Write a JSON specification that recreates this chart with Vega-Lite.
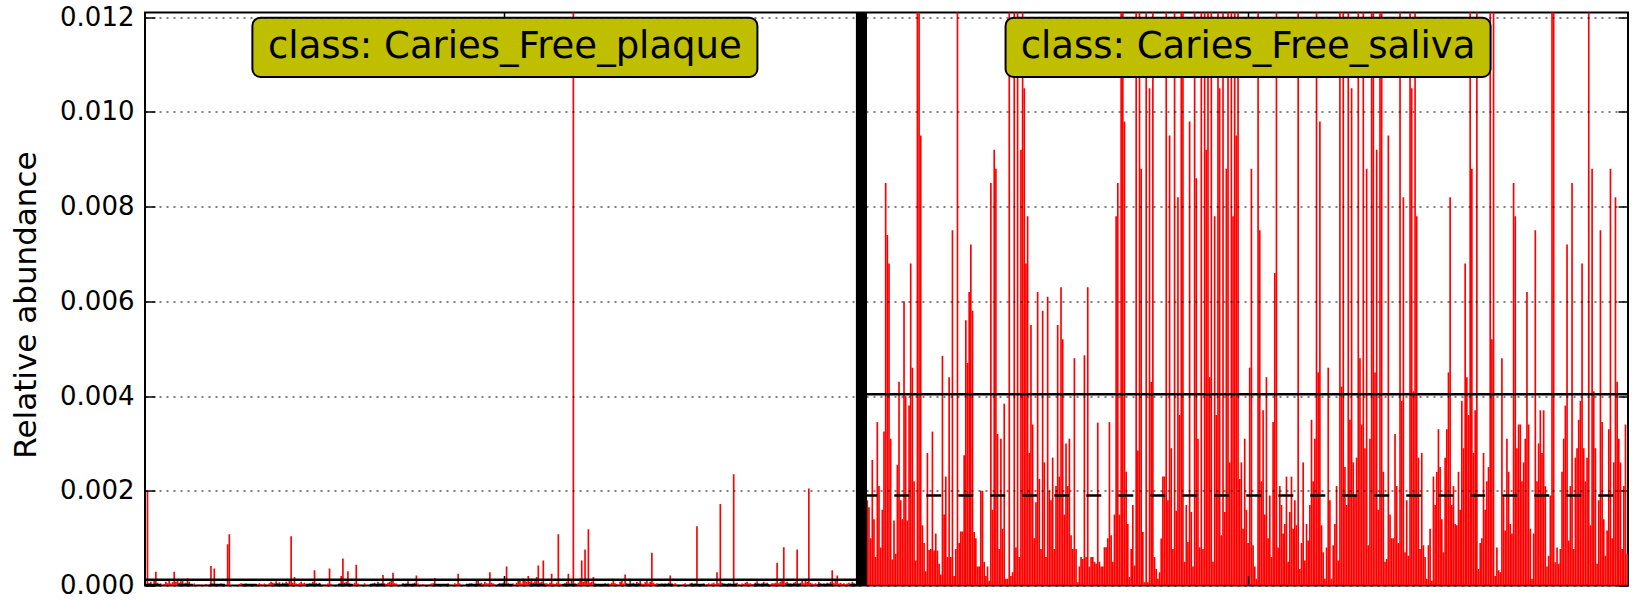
{
"$schema": "https://vega.github.io/schema/vega-lite/v6.json",
"width": 1483, "height": 573,
"autosize": {"type": "none"},
"padding": {"left": 145, "top": 12.5, "right": 5, "bottom": 14.5},
"background": "white",
"config": {"view": {"stroke": "black", "strokeWidth": 2}, "font": "DejaVu Sans"},
"datasets": {
"classes": [
{"class": "Caries_Free_plaque", "first": 0, "last": 428, "mean": 0.00012, "median": 0.00001},
{"class": "Caries_Free_saliva", "first": 429, "last": 887, "mean": 0.00404, "median": 0.0019}
],
"plaque": [
{"sample":0,"value":0},{"sample":1,"value":0.002},{"sample":2,"value":0.00005},{"sample":3,"value":0.00008},{"sample":4,"value":0.00003},{"sample":5,"value":0.00012},{"sample":6,"value":0.00029},{"sample":7,"value":0.00006},{"sample":8,"value":0.00002},{"sample":9,"value":0.00004},
{"sample":10,"value":0},{"sample":11,"value":0.00003},{"sample":12,"value":0.00008},{"sample":13,"value":0.00005},{"sample":14,"value":0.0001},{"sample":15,"value":0.00004},{"sample":16,"value":0.00007},{"sample":17,"value":0.00029},{"sample":18,"value":0.00008},{"sample":19,"value":0.00011},
{"sample":20,"value":0.00006},{"sample":21,"value":0.00009},{"sample":22,"value":0.00012},{"sample":23,"value":0.00004},{"sample":24,"value":0.00006},{"sample":25,"value":0.00015},{"sample":26,"value":0.00008},{"sample":27,"value":0.00003},{"sample":28,"value":0},{"sample":29,"value":0.00004},
{"sample":30,"value":0},{"sample":31,"value":0},{"sample":32,"value":0.00002},{"sample":33,"value":0},{"sample":34,"value":0},{"sample":35,"value":0},{"sample":36,"value":0.00003},{"sample":37,"value":0},{"sample":38,"value":0.00002},{"sample":39,"value":0.00041},
{"sample":40,"value":0.00004},{"sample":41,"value":0.00036},{"sample":42,"value":0.00003},{"sample":43,"value":0},{"sample":44,"value":0},{"sample":45,"value":0.00004},{"sample":46,"value":0.00002},{"sample":47,"value":0},{"sample":48,"value":0},{"sample":49,"value":0.00087},
{"sample":50,"value":0.00108},{"sample":51,"value":0},{"sample":52,"value":0},{"sample":53,"value":0},{"sample":54,"value":0},{"sample":55,"value":0},{"sample":56,"value":0.00003},{"sample":57,"value":0.00005},{"sample":58,"value":0},{"sample":59,"value":0},
{"sample":60,"value":0.00004},{"sample":61,"value":0},{"sample":62,"value":0.00003},{"sample":63,"value":0},{"sample":64,"value":0},{"sample":65,"value":0},{"sample":66,"value":0},{"sample":67,"value":0.00002},{"sample":68,"value":0.00005},{"sample":69,"value":0.00003},
{"sample":70,"value":0},{"sample":71,"value":0.00004},{"sample":72,"value":0.00002},{"sample":73,"value":0},{"sample":74,"value":0.00005},{"sample":75,"value":0.00008},{"sample":76,"value":0.00006},{"sample":77,"value":0.00004},{"sample":78,"value":0.00009},{"sample":79,"value":0.00005},
{"sample":80,"value":0.00007},{"sample":81,"value":0.00003},{"sample":82,"value":0.00006},{"sample":83,"value":0.00004},{"sample":84,"value":0.00008},{"sample":85,"value":0.00005},{"sample":86,"value":0.0001},{"sample":87,"value":0.00104},{"sample":88,"value":0.00006},{"sample":89,"value":0.00018},
{"sample":90,"value":0.00004},{"sample":91,"value":0.00003},{"sample":92,"value":0.00005},{"sample":93,"value":0.00008},{"sample":94,"value":0.00004},{"sample":95,"value":0.00006},{"sample":96,"value":0.00003},{"sample":97,"value":0.00002},{"sample":98,"value":0.00005},{"sample":99,"value":0.00004},
{"sample":100,"value":0.00008},{"sample":101,"value":0.00032},{"sample":102,"value":0.00005},{"sample":103,"value":0.00003},{"sample":104,"value":0.00006},{"sample":105,"value":0},{"sample":106,"value":0},{"sample":107,"value":0.00002},{"sample":108,"value":0},{"sample":109,"value":0.00004},
{"sample":110,"value":0.00036},{"sample":111,"value":0.00003},{"sample":112,"value":0},{"sample":113,"value":0},{"sample":114,"value":0},{"sample":115,"value":0.00002},{"sample":116,"value":0.00004},{"sample":117,"value":0.0002},{"sample":118,"value":0.00057},{"sample":119,"value":0.00006},
{"sample":120,"value":0.00008},{"sample":121,"value":0.0003},{"sample":122,"value":0.00005},{"sample":123,"value":0.00003},{"sample":124,"value":0.00002},{"sample":125,"value":0.00006},{"sample":126,"value":0.00044},{"sample":127,"value":0.00004},{"sample":128,"value":0.00002},{"sample":129,"value":0},
{"sample":130,"value":0},{"sample":131,"value":0.00005},{"sample":132,"value":0},{"sample":133,"value":0},{"sample":134,"value":0},{"sample":135,"value":0},{"sample":136,"value":0.00004},{"sample":137,"value":0.00006},{"sample":138,"value":0.00003},{"sample":139,"value":0.00008},
{"sample":140,"value":0.00004},{"sample":141,"value":0.00005},{"sample":142,"value":0.00022},{"sample":143,"value":0.00004},{"sample":144,"value":0.00003},{"sample":145,"value":0.00006},{"sample":146,"value":0.00008},{"sample":147,"value":0.00012},{"sample":148,"value":0.00027},{"sample":149,"value":0.00005},
{"sample":150,"value":0.00004},{"sample":151,"value":0},{"sample":152,"value":0},{"sample":153,"value":0},{"sample":154,"value":0.00005},{"sample":155,"value":0.00003},{"sample":156,"value":0.00004},{"sample":157,"value":0.00009},{"sample":158,"value":0},{"sample":159,"value":0.00003},
{"sample":160,"value":0.00004},{"sample":161,"value":0.00006},{"sample":162,"value":0.00021},{"sample":163,"value":0.00004},{"sample":164,"value":0},{"sample":165,"value":0},{"sample":166,"value":0.00003},{"sample":167,"value":0},{"sample":168,"value":0},{"sample":169,"value":0},
{"sample":170,"value":0.00002},{"sample":171,"value":0.00004},{"sample":172,"value":0.00005},{"sample":173,"value":0.00016},{"sample":174,"value":0.00003},{"sample":175,"value":0},{"sample":176,"value":0},{"sample":177,"value":0},{"sample":178,"value":0},{"sample":179,"value":0.00003},
{"sample":180,"value":0},{"sample":181,"value":0.00004},{"sample":182,"value":0.00002},{"sample":183,"value":0},{"sample":184,"value":0},{"sample":185,"value":0.00005},{"sample":186,"value":0.00003},{"sample":187,"value":0.00025},{"sample":188,"value":0.00004},{"sample":189,"value":0},
{"sample":190,"value":0},{"sample":191,"value":0},{"sample":192,"value":0},{"sample":193,"value":0.00002},{"sample":194,"value":0.00004},{"sample":195,"value":0.00005},{"sample":196,"value":0},{"sample":197,"value":0},{"sample":198,"value":0.00012},{"sample":199,"value":0.0001},
{"sample":200,"value":0.00004},{"sample":201,"value":0.00006},{"sample":202,"value":0.00003},{"sample":203,"value":0.00008},{"sample":204,"value":0.00005},{"sample":205,"value":0.00004},{"sample":206,"value":0.00028},{"sample":207,"value":0.00006},{"sample":208,"value":0.00004},{"sample":209,"value":0.00002},
{"sample":210,"value":0},{"sample":211,"value":0.00003},{"sample":212,"value":0.00005},{"sample":213,"value":0.00004},{"sample":214,"value":0.00006},{"sample":215,"value":0.00003},{"sample":216,"value":0.0004},{"sample":217,"value":0.00005},{"sample":218,"value":0.00003},{"sample":219,"value":0.00002},
{"sample":220,"value":0.00004},{"sample":221,"value":0},{"sample":222,"value":0.00006},{"sample":223,"value":0.00012},{"sample":224,"value":0.0001},{"sample":225,"value":0.00004},{"sample":226,"value":0.00015},{"sample":227,"value":0.00012},{"sample":228,"value":0.00008},{"sample":229,"value":0.0002},
{"sample":230,"value":0.00008},{"sample":231,"value":0.00015},{"sample":232,"value":0.00006},{"sample":233,"value":0.00009},{"sample":234,"value":0.00018},{"sample":235,"value":0.00042},{"sample":236,"value":0.00006},{"sample":237,"value":0.00008},{"sample":238,"value":0.00053},{"sample":239,"value":0.00004},
{"sample":240,"value":0.00005},{"sample":241,"value":0.00003},{"sample":242,"value":0.00006},{"sample":243,"value":0.00025},{"sample":244,"value":0.00004},{"sample":245,"value":0.00003},{"sample":246,"value":0.00006},{"sample":247,"value":0.00108},{"sample":248,"value":0.00004},{"sample":249,"value":0.00003},
{"sample":250,"value":0.00002},{"sample":251,"value":0.00005},{"sample":252,"value":0.00008},{"sample":253,"value":0.00025},{"sample":254,"value":0.00004},{"sample":255,"value":0.00012},{"sample":256,"value":0.0135},{"sample":257,"value":0.00004},{"sample":258,"value":0.00002},{"sample":259,"value":0.00006},
{"sample":260,"value":0.00015},{"sample":261,"value":0.00053},{"sample":262,"value":0.00008},{"sample":263,"value":0.00076},{"sample":264,"value":0.00012},{"sample":265,"value":0.00119},{"sample":266,"value":0.00006},{"sample":267,"value":0.00008},{"sample":268,"value":0.00018},{"sample":269,"value":0.00004},
{"sample":270,"value":0.00003},{"sample":271,"value":0},{"sample":272,"value":0},{"sample":273,"value":0},{"sample":274,"value":0.00002},{"sample":275,"value":0.00005},{"sample":276,"value":0},{"sample":277,"value":0.00004},{"sample":278,"value":0.00003},{"sample":279,"value":0.00006},
{"sample":280,"value":0.00014},{"sample":281,"value":0.00005},{"sample":282,"value":0.00003},{"sample":283,"value":0},{"sample":284,"value":0.00008},{"sample":285,"value":0.00012},{"sample":286,"value":0.00004},{"sample":287,"value":0.00023},{"sample":288,"value":0.00005},{"sample":289,"value":0.00003},
{"sample":290,"value":0.00014},{"sample":291,"value":0.00004},{"sample":292,"value":0.00006},{"sample":293,"value":0.00002},{"sample":294,"value":0.00008},{"sample":295,"value":0.00005},{"sample":296,"value":0.00012},{"sample":297,"value":0.00004},{"sample":298,"value":0.00003},{"sample":299,"value":0.00007},
{"sample":300,"value":0.0001},{"sample":301,"value":0.00004},{"sample":302,"value":0.00008},{"sample":303,"value":0.00069},{"sample":304,"value":0.00006},{"sample":305,"value":0.00003},{"sample":306,"value":0.00005},{"sample":307,"value":0.00002},{"sample":308,"value":0},{"sample":309,"value":0.00004},
{"sample":310,"value":0.00002},{"sample":311,"value":0.00004},{"sample":312,"value":0},{"sample":313,"value":0.00006},{"sample":314,"value":0.00021},{"sample":315,"value":0.00004},{"sample":316,"value":0.00003},{"sample":317,"value":0.00005},{"sample":318,"value":0.00002},{"sample":319,"value":0},
{"sample":320,"value":0},{"sample":321,"value":0},{"sample":322,"value":0.00003},{"sample":323,"value":0.00005},{"sample":324,"value":0},{"sample":325,"value":0.00002},{"sample":326,"value":0.00004},{"sample":327,"value":0.00006},{"sample":328,"value":0.00003},{"sample":329,"value":0.00004},
{"sample":330,"value":0.00125},{"sample":331,"value":0.00003},{"sample":332,"value":0},{"sample":333,"value":0},{"sample":334,"value":0.00004},{"sample":335,"value":0},{"sample":336,"value":0.00003},{"sample":337,"value":0.00005},{"sample":338,"value":0.00002},{"sample":339,"value":0.00004},
{"sample":340,"value":0.00006},{"sample":341,"value":0.00003},{"sample":342,"value":0.00028},{"sample":343,"value":0.00005},{"sample":344,"value":0.00172},{"sample":345,"value":0.00006},{"sample":346,"value":0.00004},{"sample":347,"value":0.00003},{"sample":348,"value":0.00002},{"sample":349,"value":0.00005},
{"sample":350,"value":0.00004},{"sample":351,"value":0.00003},{"sample":352,"value":0.00235},{"sample":353,"value":0.00004},{"sample":354,"value":0.00006},{"sample":355,"value":0.00002},{"sample":356,"value":0},{"sample":357,"value":0.00004},{"sample":358,"value":0.00003},{"sample":359,"value":0.00006},
{"sample":360,"value":0.00008},{"sample":361,"value":0.00004},{"sample":362,"value":0.00005},{"sample":363,"value":0.00003},{"sample":364,"value":0.00002},{"sample":365,"value":0.00006},{"sample":366,"value":0.00009},{"sample":367,"value":0.00004},{"sample":368,"value":0.00003},{"sample":369,"value":0.00005},
{"sample":370,"value":0.00008},{"sample":371,"value":0.00004},{"sample":372,"value":0.00006},{"sample":373,"value":0.00003},{"sample":374,"value":0.00002},{"sample":375,"value":0.00005},{"sample":376,"value":0.00004},{"sample":377,"value":0.00006},{"sample":378,"value":0.00048},{"sample":379,"value":0.00005},
{"sample":380,"value":0.00008},{"sample":381,"value":0.00012},{"sample":382,"value":0.00081},{"sample":383,"value":0.00006},{"sample":384,"value":0.00008},{"sample":385,"value":0.00004},{"sample":386,"value":0.00005},{"sample":387,"value":0.00003},{"sample":388,"value":0.00006},{"sample":389,"value":0.00008},
{"sample":390,"value":0.00076},{"sample":391,"value":0.00004},{"sample":392,"value":0.00006},{"sample":393,"value":0.00012},{"sample":394,"value":0.00005},{"sample":395,"value":0.00013},{"sample":396,"value":0.00008},{"sample":397,"value":0.00205},{"sample":398,"value":0.00006},{"sample":399,"value":0.00004},
{"sample":400,"value":0.00002},{"sample":401,"value":0.00005},{"sample":402,"value":0.00003},{"sample":403,"value":0.00008},{"sample":404,"value":0.00005},{"sample":405,"value":0.00002},{"sample":406,"value":0.00004},{"sample":407,"value":0.00003},{"sample":408,"value":0.00006},{"sample":409,"value":0.00004},
{"sample":410,"value":0.00008},{"sample":411,"value":0.00032},{"sample":412,"value":0.00005},{"sample":413,"value":0.00012},{"sample":414,"value":0.00021},{"sample":415,"value":0.00004},{"sample":416,"value":0.00006},{"sample":417,"value":0.00003},{"sample":418,"value":0.00005},{"sample":419,"value":0.00002},
{"sample":420,"value":0.00004},{"sample":421,"value":0.00006},{"sample":422,"value":0.00003},{"sample":423,"value":0.00008},{"sample":424,"value":0.00005},{"sample":425,"value":0.00003},{"sample":426,"value":0.00006},{"sample":427,"value":0.00004},{"sample":428,"value":0.00009}
],
"saliva": [
{"sample":429,"value":0.002},{"sample":430,"value":0.0015},{"sample":431,"value":0.0025},{"sample":432,"value":0.0018},{"sample":433,"value":0.00165},{"sample":434,"value":0.001},{"sample":435,"value":0.00265},{"sample":436,"value":0.0014},{"sample":437,"value":0.0006},{"sample":438,"value":0.00345},
{"sample":439,"value":0.0021},{"sample":440,"value":0.0008},{"sample":441,"value":0.0016},{"sample":442,"value":0.00325},{"sample":443,"value":0.0085},{"sample":444,"value":0.0074},{"sample":445,"value":0.0068},{"sample":446,"value":0.0031},{"sample":447,"value":0.00055},{"sample":448,"value":0.00137},
{"sample":449,"value":0.00067},{"sample":450,"value":0.00255},{"sample":451,"value":0.0043},{"sample":452,"value":0.0018},{"sample":453,"value":0.0014},{"sample":454,"value":0.006},{"sample":455,"value":0.004},{"sample":456,"value":0.00137},{"sample":457,"value":0.0038},{"sample":458,"value":0.0068},
{"sample":459,"value":0.0046},{"sample":460,"value":0.0022},{"sample":461,"value":0.00053},{"sample":462,"value":0.013},{"sample":463,"value":0.013},{"sample":464,"value":0.0095},{"sample":465,"value":0.00127},{"sample":466,"value":0.0009},{"sample":467,"value":0.0003},{"sample":468,"value":0.0028},
{"sample":469,"value":0.00075},{"sample":470,"value":0.00077},{"sample":471,"value":0.00325},{"sample":472,"value":0.00074},{"sample":473,"value":0.0011},{"sample":474,"value":0.00074},{"sample":475,"value":0.00046},{"sample":476,"value":0.00023},{"sample":477,"value":0.00485},{"sample":478,"value":0.0015},
{"sample":479,"value":0.0023},{"sample":480,"value":0.0006},{"sample":481,"value":0.0044},{"sample":482,"value":0.0006},{"sample":483,"value":0.0075},{"sample":484,"value":0.0002},{"sample":485,"value":0.00077},{"sample":486,"value":0.013},{"sample":487,"value":0.0009},{"sample":488,"value":0.00114},
{"sample":489,"value":0.00114},{"sample":490,"value":0.00275},{"sample":491,"value":0.0056},{"sample":492,"value":0.0047},{"sample":493,"value":0.0062},{"sample":494,"value":0.0072},{"sample":495,"value":0.0058},{"sample":496,"value":0.00113},{"sample":497,"value":0.001},{"sample":498,"value":0.0004},
{"sample":499,"value":0.0004},{"sample":500,"value":0.002},{"sample":501,"value":0.002},{"sample":502,"value":0.0005},{"sample":503,"value":0.0002},{"sample":504,"value":0.0004},{"sample":505,"value":0.0001},{"sample":506,"value":0.0085},{"sample":507,"value":0.0016},{"sample":508,"value":0.0092},
{"sample":509,"value":0.0088},{"sample":510,"value":0.0032},{"sample":511,"value":0.00077},{"sample":512,"value":0.0031},{"sample":513,"value":0.0012},{"sample":514,"value":0.00384},{"sample":515,"value":0.00014},{"sample":516,"value":0.00014},{"sample":517,"value":0.013},{"sample":518,"value":0.0002},
{"sample":519,"value":0.00028},{"sample":520,"value":0.013},{"sample":521,"value":0.0008},{"sample":522,"value":0.013},{"sample":523,"value":0.0006},{"sample":524,"value":0.0092},{"sample":525,"value":0.013},{"sample":526,"value":0.0105},{"sample":527,"value":0.0068},{"sample":528,"value":0.0078},
{"sample":529,"value":0.0028},{"sample":530,"value":0.0055},{"sample":531,"value":0.0034},{"sample":532,"value":0.001},{"sample":533,"value":0.00176},{"sample":534,"value":0.0062},{"sample":535,"value":0.00225},{"sample":536,"value":0.00077},{"sample":537,"value":0.0058},{"sample":538,"value":0.0026},
{"sample":539,"value":0.0006},{"sample":540,"value":0.0061},{"sample":541,"value":0.002},{"sample":542,"value":0.0018},{"sample":543,"value":0.0027},{"sample":544,"value":0.00077},{"sample":545,"value":0.0021},{"sample":546,"value":0.0055},{"sample":547,"value":0.0023},{"sample":548,"value":0.0063},
{"sample":549,"value":0.0052},{"sample":550,"value":0.0015},{"sample":551,"value":0.003},{"sample":552,"value":0.0021},{"sample":553,"value":0.0031},{"sample":554,"value":0.00106},{"sample":555,"value":0.00077},{"sample":556,"value":0.0048},{"sample":557,"value":0.00077},{"sample":558,"value":0.00007},
{"sample":559,"value":0.0004},{"sample":560,"value":0.0006},{"sample":561,"value":0.00056},{"sample":562,"value":0.00486},{"sample":563,"value":0.0006},{"sample":564,"value":0.0063},{"sample":565,"value":0.0004},{"sample":566,"value":0.0006},{"sample":567,"value":0.0006},{"sample":568,"value":0.0005},
{"sample":569,"value":0.00046},{"sample":570,"value":0.00344},{"sample":571,"value":0.0005},{"sample":572,"value":0.0004},{"sample":573,"value":0.0004},{"sample":574,"value":0.00081},{"sample":575,"value":0.00081},{"sample":576,"value":0.001},{"sample":577,"value":0.00345},{"sample":578,"value":0.00106},
{"sample":579,"value":0.0005},{"sample":580,"value":0.0015},{"sample":581,"value":0.0078},{"sample":582,"value":0.0085},{"sample":583,"value":0.0015},{"sample":584,"value":0.013},{"sample":585,"value":0.013},{"sample":586,"value":0.0098},{"sample":587,"value":0.0024},{"sample":588,"value":0.0013},
{"sample":589,"value":0.00018},{"sample":590,"value":0.00077},{"sample":591,"value":0.0017},{"sample":592,"value":0.00042},{"sample":593,"value":0.013},{"sample":594,"value":0.00285},{"sample":595,"value":0.013},{"sample":596,"value":0.0088},{"sample":597,"value":0.00113},{"sample":598,"value":0.00007},
{"sample":599,"value":0.013},{"sample":600,"value":0.00007},{"sample":601,"value":0.0105},{"sample":602,"value":0.0043},{"sample":603,"value":0.013},{"sample":604,"value":0.0006},{"sample":605,"value":0.00035},{"sample":606,"value":0.00014},{"sample":607,"value":0.00028},{"sample":608,"value":0.00099},
{"sample":609,"value":0.0023},{"sample":610,"value":0.0023},{"sample":611,"value":0.013},{"sample":612,"value":0.0018},{"sample":613,"value":0.0095},{"sample":614,"value":0.0029},{"sample":615,"value":0.00077},{"sample":616,"value":0.013},{"sample":617,"value":0.00158},{"sample":618,"value":0.0082},
{"sample":619,"value":0.0036},{"sample":620,"value":0.013},{"sample":621,"value":0.013},{"sample":622,"value":0.0005},{"sample":623,"value":0.0017},{"sample":624,"value":0.00092},{"sample":625,"value":0.0098},{"sample":626,"value":0.00155},{"sample":627,"value":0.0004},{"sample":628,"value":0.013},
{"sample":629,"value":0.0086},{"sample":630,"value":0.0031},{"sample":631,"value":0.00081},{"sample":632,"value":0.013},{"sample":633,"value":0.00077},{"sample":634,"value":0.013},{"sample":635,"value":0.0092},{"sample":636,"value":0.013},{"sample":637,"value":0.0044},{"sample":638,"value":0.013},
{"sample":639,"value":0.0005},{"sample":640,"value":0.0078},{"sample":641,"value":0.0036},{"sample":642,"value":0.013},{"sample":643,"value":0.0105},{"sample":644,"value":0.00106},{"sample":645,"value":0.013},{"sample":646,"value":0.00155},{"sample":647,"value":0.0088},{"sample":648,"value":0.013},
{"sample":649,"value":0.0026},{"sample":650,"value":0.013},{"sample":651,"value":0.0078},{"sample":652,"value":0.013},{"sample":653,"value":0.0095},{"sample":654,"value":0.013},{"sample":655,"value":0.00225},{"sample":656,"value":0.0026},{"sample":657,"value":0.0012},{"sample":658,"value":0.0031},
{"sample":659,"value":0.0016},{"sample":660,"value":0.0009},{"sample":661,"value":0.0046},{"sample":662,"value":0.0088},{"sample":663,"value":0.00085},{"sample":664,"value":0.0004},{"sample":665,"value":0.00014},{"sample":666,"value":0.013},{"sample":667,"value":0.0075},{"sample":668,"value":0.0022},
{"sample":669,"value":0.0037},{"sample":670,"value":0.0015},{"sample":671,"value":0.0044},{"sample":672,"value":0.001},{"sample":673,"value":0.0019},{"sample":674,"value":0.0006},{"sample":675,"value":0.00345},{"sample":676,"value":0.0066},{"sample":677,"value":0.013},{"sample":678,"value":0.0008},
{"sample":679,"value":0.0021},{"sample":680,"value":0.0017},{"sample":681,"value":0.0011},{"sample":682,"value":0.0013},{"sample":683,"value":0.0023},{"sample":684,"value":0.0005},{"sample":685,"value":0.00155},{"sample":686,"value":0.0023},{"sample":687,"value":0.0012},{"sample":688,"value":0.0018},
{"sample":689,"value":0.00127},{"sample":690,"value":0.013},{"sample":691,"value":0.00035},{"sample":692,"value":0.0009},{"sample":693,"value":0.0026},{"sample":694,"value":0.00053},{"sample":695,"value":0.0013},{"sample":696,"value":0.00095},{"sample":697,"value":0.0017},{"sample":698,"value":0.0035},
{"sample":699,"value":0.0022},{"sample":700,"value":0.0031},{"sample":701,"value":0.013},{"sample":702,"value":0.0045},{"sample":703,"value":0.0098},{"sample":704,"value":0.00127},{"sample":705,"value":0.0007},{"sample":706,"value":0.00014},{"sample":707,"value":0.0008},{"sample":708,"value":0.0046},
{"sample":709,"value":0.0018},{"sample":710,"value":0.00014},{"sample":711,"value":0.00085},{"sample":712,"value":0.0013},{"sample":713,"value":0.0021},{"sample":714,"value":0.00053},{"sample":715,"value":0.013},{"sample":716,"value":0.0042},{"sample":717,"value":0.013},{"sample":718,"value":0.0025},
{"sample":719,"value":0.0017},{"sample":720,"value":0.013},{"sample":721,"value":0.0035},{"sample":722,"value":0.0105},{"sample":723,"value":0.0026},{"sample":724,"value":0.0019},{"sample":725,"value":0.0027},{"sample":726,"value":0.013},{"sample":727,"value":0.0048},{"sample":728,"value":0.0034},
{"sample":729,"value":0.013},{"sample":730,"value":0.0029},{"sample":731,"value":0.0088},{"sample":732,"value":0.00085},{"sample":733,"value":0.0031},{"sample":734,"value":0.013},{"sample":735,"value":0.013},{"sample":736,"value":0.0045},{"sample":737,"value":0.0092},{"sample":738,"value":0.0016},
{"sample":739,"value":0.013},{"sample":740,"value":0.013},{"sample":741,"value":0.0024},{"sample":742,"value":0.0005},{"sample":743,"value":0.00056},{"sample":744,"value":0.0095},{"sample":745,"value":0.0015},{"sample":746,"value":0.001},{"sample":747,"value":0.001},{"sample":748,"value":0.0032},
{"sample":749,"value":0.0021},{"sample":750,"value":0.0009},{"sample":751,"value":0.013},{"sample":752,"value":0.0039},{"sample":753,"value":0.0082},{"sample":754,"value":0.0007},{"sample":755,"value":0.0018},{"sample":756,"value":0.00063},{"sample":757,"value":0.013},{"sample":758,"value":0.0105},
{"sample":759,"value":0.0041},{"sample":760,"value":0.013},{"sample":761,"value":0.0078},{"sample":762,"value":0.0027},{"sample":763,"value":0.00077},{"sample":764,"value":0.0028},{"sample":765,"value":0.00085},{"sample":766,"value":0.0006},{"sample":767,"value":0.00014},{"sample":768,"value":0.00085},
{"sample":769,"value":0.0012},{"sample":770,"value":0.0001},{"sample":771,"value":0.0023},{"sample":772,"value":0.0017},{"sample":773,"value":0.0024},{"sample":774,"value":0.0033},{"sample":775,"value":0.0025},{"sample":776,"value":0.0014},{"sample":777,"value":0.0007},{"sample":778,"value":0.0027},
{"sample":779,"value":0.0033},{"sample":780,"value":0.0045},{"sample":781,"value":0.0082},{"sample":782,"value":0.0017},{"sample":783,"value":0.0021},{"sample":784,"value":0.0013},{"sample":785,"value":0.00127},{"sample":786,"value":0.0024},{"sample":787,"value":0.0016},{"sample":788,"value":0.0039},
{"sample":789,"value":0.0029},{"sample":790,"value":0.0068},{"sample":791,"value":0.0044},{"sample":792,"value":0.0036},{"sample":793,"value":0.013},{"sample":794,"value":0.0088},{"sample":795,"value":0.0028},{"sample":796,"value":0.0037},{"sample":797,"value":0.013},{"sample":798,"value":0.00035},
{"sample":799,"value":0.0009},{"sample":800,"value":0.001},{"sample":801,"value":0.0028},{"sample":802,"value":0.0016},{"sample":803,"value":0.0022},{"sample":804,"value":0.0025},{"sample":805,"value":0.013},{"sample":806,"value":0.0052},{"sample":807,"value":0.013},{"sample":808,"value":0.0002},
{"sample":809,"value":0.0008},{"sample":810,"value":0.00032},{"sample":811,"value":0.00028},{"sample":812,"value":0.0048},{"sample":813,"value":0.0019},{"sample":814,"value":0.00116},{"sample":815,"value":0.0031},{"sample":816,"value":0.0024},{"sample":817,"value":0.0013},{"sample":818,"value":0.0011},
{"sample":819,"value":0.0085},{"sample":820,"value":0.0078},{"sample":821,"value":0.0029},{"sample":822,"value":0.0034},{"sample":823,"value":0.0034},{"sample":824,"value":0.0022},{"sample":825,"value":0.0026},{"sample":826,"value":0.0031},{"sample":827,"value":0.0062},{"sample":828,"value":0.0034},
{"sample":829,"value":0.0012},{"sample":830,"value":0.00014},{"sample":831,"value":0.0011},{"sample":832,"value":0.0075},{"sample":833,"value":0.0022},{"sample":834,"value":0.003},{"sample":835,"value":0.0037},{"sample":836,"value":0.0028},{"sample":837,"value":0.0037},{"sample":838,"value":0.0021},
{"sample":839,"value":0.0004},{"sample":840,"value":0.00063},{"sample":841,"value":0.0019},{"sample":842,"value":0.0125},{"sample":843,"value":0.013},{"sample":844,"value":0.00049},{"sample":845,"value":0.0008},{"sample":846,"value":0.00046},{"sample":847,"value":0.00077},{"sample":848,"value":0.0024},
{"sample":849,"value":0.0031},{"sample":850,"value":0.0038},{"sample":851,"value":0.0072},{"sample":852,"value":0.00095},{"sample":853,"value":0.0021},{"sample":854,"value":0.0085},{"sample":855,"value":0.00077},{"sample":856,"value":0.0027},{"sample":857,"value":0.0029},{"sample":858,"value":0.0035},
{"sample":859,"value":0.0039},{"sample":860,"value":0.0068},{"sample":861,"value":0.0029},{"sample":862,"value":0.0022},{"sample":863,"value":0.0027},{"sample":864,"value":0.013},{"sample":865,"value":0.00127},{"sample":866,"value":0.0088},{"sample":867,"value":0.0041},{"sample":868,"value":0.0029},
{"sample":869,"value":0.00046},{"sample":870,"value":0.0018},{"sample":871,"value":0.0075},{"sample":872,"value":0.00345},{"sample":873,"value":0.0014},{"sample":874,"value":0.00063},{"sample":875,"value":0.00116},{"sample":876,"value":0.0033},{"sample":877,"value":0.0088},{"sample":878,"value":0.001},
{"sample":879,"value":0.0026},{"sample":880,"value":0.0082},{"sample":881,"value":0.0043},{"sample":882,"value":0.0031},{"sample":883,"value":0.0026},{"sample":884,"value":0.00077},{"sample":885,"value":0.0021},{"sample":886,"value":0.0034},{"sample":887,"value":0.00067}
]
},
"resolve": {"axis": {"x": "independent", "y": "independent"}},
"layer": [
{
"data": {"name": "plaque"},
"mark": {"type": "bar", "color": "#ff0000", "clip": true},
"encoding": {
"x": {"field": "sample", "type": "ordinal", "scale": {"paddingInner": 0, "paddingOuter": 0},
"axis": {"orient": "bottom", "values": [215, 660], "labels": false, "title": null, "domain": false, "grid": false, "tickSize": -10, "tickColor": "black", "tickWidth": 1.5, "zindex": 1}},
"y": {"field": "value", "type": "quantitative", "scale": {"domain": [0, 0.0121], "nice": false, "zero": true},
"axis": {"orient": "left", "title": "Relative abundance", "values": [0, 0.002, 0.004, 0.006, 0.008, 0.01, 0.012], "format": ".3f",
"labelFont": "DejaVu Sans", "labelFontSize": 26, "labelColor": "black", "labelPadding": 21, "labelFlush": false, "labelOverlap": false,
"tickSize": -10, "tickColor": "black", "tickWidth": 1.5,
"domain": false, "grid": true, "gridColor": "black", "gridDash": [2, 5], "gridWidth": 1, "gridOpacity": 1,
"titleFont": "DejaVu Sans", "titleFontSize": 31, "titleFontWeight": "normal", "titleColor": "black",
"titleX": -119, "titleY": 292, "titleAngle": -90, "titleBaseline": "middle", "titleAlign": "center", "zindex": 1}}
}
},
{
"data": {"name": "saliva"},
"mark": {"type": "bar", "color": "#ff0000", "clip": true},
"encoding": {
"x": {"field": "sample", "type": "ordinal", "axis": null},
"y": {"field": "value", "type": "quantitative", "axis": null}
}
},
{
"data": {"name": "classes"},
"mark": {"type": "rule", "color": "black", "strokeWidth": 2.5},
"encoding": {
"x": {"field": "first", "type": "ordinal", "axis": {"orient": "top", "values": [215, 660], "labels": false, "title": null, "domain": false, "grid": false, "tickSize": -10, "tickColor": "black", "tickWidth": 1.5}},
"x2": {"field": "last"},
"y": {"field": "mean", "type": "quantitative", "axis": {"orient": "right", "values": [0, 0.002, 0.004, 0.006, 0.008, 0.01, 0.012], "labels": false, "title": null, "domain": false, "grid": false, "tickSize": -10, "tickColor": "black", "tickWidth": 1.5}}
}
},
{
"data": {"name": "classes"},
"mark": {"type": "rule", "color": "black", "strokeWidth": 2.5, "strokeDash": [15, 17]},
"encoding": {
"x": {"field": "first", "type": "ordinal", "axis": null},
"x2": {"field": "last"},
"y": {"field": "median", "type": "quantitative", "axis": null}
}
},
{
"data": {"name": "classes"},
"mark": {"type": "rule", "color": "black", "strokeWidth": 11},
"encoding": {
"x": {"datum": 429, "type": "ordinal", "bandPosition": 0, "axis": null}
}
},
{
"data": {"name": "classes"},
"transform": [{"filter": "datum.class == 'Caries_Free_plaque'"}],
"mark": {"type": "bar", "width": 505, "fill": "#bfbf00", "stroke": "black", "strokeWidth": 2, "cornerRadius": 8},
"encoding": {
"x": {"datum": 215, "type": "ordinal", "axis": null},
"y": {"datum": 0.01199, "type": "quantitative", "axis": null},
"y2": {"datum": 0.010738}
}
},
{
"data": {"name": "classes"},
"transform": [{"filter": "datum.class == 'Caries_Free_saliva'"}],
"mark": {"type": "bar", "width": 485, "fill": "#bfbf00", "stroke": "black", "strokeWidth": 2, "cornerRadius": 8},
"encoding": {
"x": {"datum": 660, "type": "ordinal", "axis": null},
"y": {"datum": 0.01199, "type": "quantitative", "axis": null},
"y2": {"datum": 0.010738}
}
},
{
"data": {"name": "classes"},
"transform": [{"filter": "datum.class == 'Caries_Free_plaque'"}],
"mark": {"type": "text", "font": "DejaVu Sans", "fontSize": 37, "color": "black", "align": "center", "baseline": "middle"},
"encoding": {
"x": {"datum": 215, "type": "ordinal", "axis": null},
"y": {"datum": 0.01137, "type": "quantitative", "axis": null},
"text": {"value": "class: Caries_Free_plaque"}
}
},
{
"data": {"name": "classes"},
"transform": [{"filter": "datum.class == 'Caries_Free_saliva'"}],
"mark": {"type": "text", "font": "DejaVu Sans", "fontSize": 37, "color": "black", "align": "center", "baseline": "middle"},
"encoding": {
"x": {"datum": 660, "type": "ordinal", "axis": null},
"y": {"datum": 0.01137, "type": "quantitative", "axis": null},
"text": {"value": "class: Caries_Free_saliva"}
}
}
]
}
